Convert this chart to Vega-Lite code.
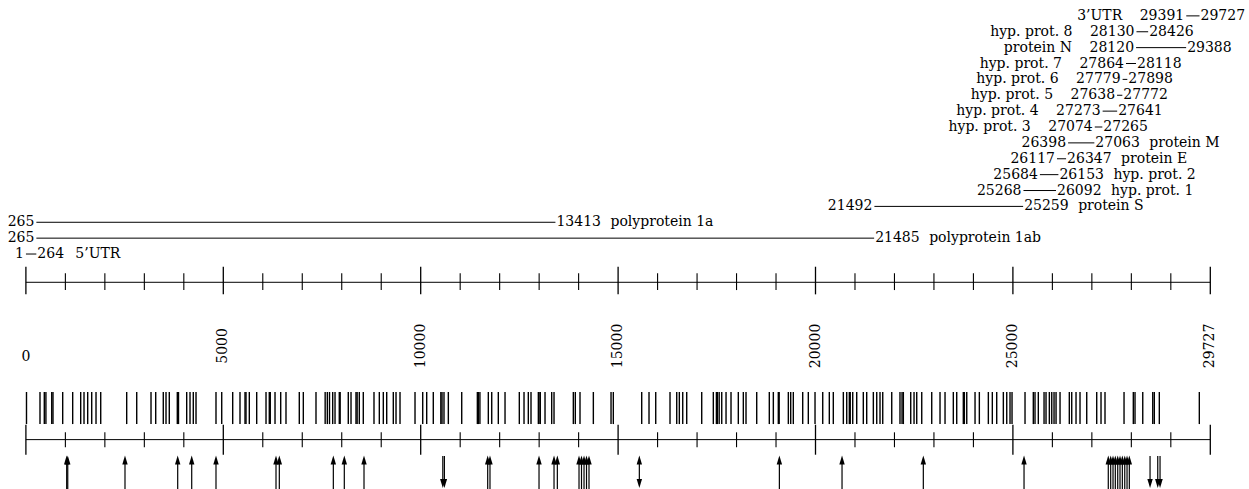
{
  "$schema": "https://vega.github.io/schema/vega-lite/v6.json",
  "autosize": "none",
  "width": 1184.4,
  "height": 489,
  "padding": {"left": 25.9, "right": 38.7, "top": 0, "bottom": 0},
  "background": "white",
  "config": {"view": {"stroke": null}, "text": {"font": "DejaVu Serif", "fontSize": 14, "color": "black"}},
  "datasets": {
    "genes": [
      {"name": "3’UTR", "start": 29391, "end": 29727, "lane": 1, "side": "left"},
      {"name": "hyp. prot. 8", "start": 28130, "end": 28426, "lane": 2, "side": "left"},
      {"name": "protein N", "start": 28120, "end": 29388, "lane": 3, "side": "left"},
      {"name": "hyp. prot. 7", "start": 27864, "end": 28118, "lane": 4, "side": "left"},
      {"name": "hyp. prot. 6", "start": 27779, "end": 27898, "lane": 5, "side": "left"},
      {"name": "hyp. prot. 5", "start": 27638, "end": 27772, "lane": 6, "side": "left"},
      {"name": "hyp. prot. 4", "start": 27273, "end": 27641, "lane": 7, "side": "left"},
      {"name": "hyp. prot. 3", "start": 27074, "end": 27265, "lane": 8, "side": "left"},
      {"name": "protein M", "start": 26398, "end": 27063, "lane": 9, "side": "right"},
      {"name": "protein E", "start": 26117, "end": 26347, "lane": 10, "side": "right"},
      {"name": "hyp. prot. 2", "start": 25684, "end": 26153, "lane": 11, "side": "right"},
      {"name": "hyp. prot. 1", "start": 25268, "end": 26092, "lane": 12, "side": "right"},
      {"name": "protein S", "start": 21492, "end": 25259, "lane": 13, "side": "right"},
      {"name": "polyprotein 1a", "start": 265, "end": 13413, "lane": 14, "side": "right"},
      {"name": "polyprotein 1ab", "start": 265, "end": 21485, "lane": 15, "side": "right"},
      {"name": "5’UTR", "start": 1, "end": 264, "lane": 16, "side": "right"}
    ],
    "ticks": [
      {"pos": 0, "kind": "major", "label": "0"},
      {"pos": 1000, "kind": "minor"}, {"pos": 2000, "kind": "minor"}, {"pos": 3000, "kind": "minor"}, {"pos": 4000, "kind": "minor"},
      {"pos": 5000, "kind": "major", "label": "5000"},
      {"pos": 6000, "kind": "minor"}, {"pos": 7000, "kind": "minor"}, {"pos": 8000, "kind": "minor"}, {"pos": 9000, "kind": "minor"},
      {"pos": 10000, "kind": "major", "label": "10000"},
      {"pos": 11000, "kind": "minor"}, {"pos": 12000, "kind": "minor"}, {"pos": 13000, "kind": "minor"}, {"pos": 14000, "kind": "minor"},
      {"pos": 15000, "kind": "major", "label": "15000"},
      {"pos": 16000, "kind": "minor"}, {"pos": 17000, "kind": "minor"}, {"pos": 18000, "kind": "minor"}, {"pos": 19000, "kind": "minor"},
      {"pos": 20000, "kind": "major", "label": "20000"},
      {"pos": 21000, "kind": "minor"}, {"pos": 22000, "kind": "minor"}, {"pos": 23000, "kind": "minor"}, {"pos": 24000, "kind": "minor"},
      {"pos": 25000, "kind": "major", "label": "25000"},
      {"pos": 26000, "kind": "minor"}, {"pos": 27000, "kind": "minor"}, {"pos": 28000, "kind": "minor"}, {"pos": 29000, "kind": "minor"},
      {"pos": 30000, "kind": "major", "label": "29727"}
    ],
    "sites": [
      {"pos": 15}, {"pos": 357}, {"pos": 466}, {"pos": 507}, {"pos": 654}, {"pos": 686}, {"pos": 932}, {"pos": 1185}, {"pos": 1388}, {"pos": 1472}, {"pos": 1565}, {"pos": 1667}, {"pos": 1776}, {"pos": 1895}, {"pos": 2553}, {"pos": 2807}, {"pos": 3169}, {"pos": 3288}, {"pos": 3480}, {"pos": 3549}, {"pos": 3632}, {"pos": 3835}, {"pos": 3865}, {"pos": 4073}, {"pos": 4157}, {"pos": 4240}, {"pos": 4309}, {"pos": 4815},
      {"pos": 4960}, {"pos": 5238}, {"pos": 5423}, {"pos": 5550}, {"pos": 5575}, {"pos": 5659}, {"pos": 5846}, {"pos": 6082}, {"pos": 6165}, {"pos": 6190}, {"pos": 6310}, {"pos": 6454}, {"pos": 6588}, {"pos": 6925}, {"pos": 7027}, {"pos": 7348}, {"pos": 7580}, {"pos": 7635}, {"pos": 7690}, {"pos": 7771}, {"pos": 7830}, {"pos": 7938}, {"pos": 7960}, {"pos": 8166}, {"pos": 8235}, {"pos": 8361}, {"pos": 8390}, {"pos": 8445}, {"pos": 8546}, {"pos": 8817}, {"pos": 8952}, {"pos": 9053}, {"pos": 9139}, {"pos": 9306}, {"pos": 9375}, {"pos": 9476}, {"pos": 9856},
      {"pos": 10051}, {"pos": 10152}, {"pos": 10319}, {"pos": 10510}, {"pos": 10540}, {"pos": 10590}, {"pos": 10700}, {"pos": 11039}, {"pos": 11435}, {"pos": 11459}, {"pos": 11500}, {"pos": 11713}, {"pos": 11799}, {"pos": 11966}, {"pos": 12136}, {"pos": 12498}, {"pos": 12617}, {"pos": 12726}, {"pos": 12794}, {"pos": 12980}, {"pos": 12997}, {"pos": 13030}, {"pos": 13149}, {"pos": 13318}, {"pos": 13377}, {"pos": 13866}, {"pos": 13916}, {"pos": 14035}, {"pos": 14373}, {"pos": 14821}, {"pos": 14879},
      {"pos": 15598}, {"pos": 15783}, {"pos": 15953}, {"pos": 16315}, {"pos": 16485}, {"pos": 16551}, {"pos": 16637}, {"pos": 16738}, {"pos": 17118}, {"pos": 17412}, {"pos": 17490}, {"pos": 17513}, {"pos": 17560}, {"pos": 17625}, {"pos": 17734}, {"pos": 17860}, {"pos": 18045}, {"pos": 18172}, {"pos": 18240}, {"pos": 18511}, {"pos": 18830}, {"pos": 18932}, {"pos": 19058}, {"pos": 19080}, {"pos": 19312}, {"pos": 19372}, {"pos": 19438}, {"pos": 19676}, {"pos": 19818}, {"pos": 19988},
      {"pos": 20183}, {"pos": 20350}, {"pos": 20451}, {"pos": 20705}, {"pos": 20791}, {"pos": 20857}, {"pos": 20880}, {"pos": 20943}, {"pos": 21044}, {"pos": 21211}, {"pos": 21297}, {"pos": 21465}, {"pos": 21551}, {"pos": 21634}, {"pos": 21703}, {"pos": 21931}, {"pos": 22140}, {"pos": 22192}, {"pos": 22225}, {"pos": 22412}, {"pos": 22496}, {"pos": 22564}, {"pos": 22691}, {"pos": 22944}, {"pos": 23154}, {"pos": 23281}, {"pos": 23491}, {"pos": 23577}, {"pos": 23744}, {"pos": 23770}, {"pos": 23831}, {"pos": 24041}, {"pos": 24150}, {"pos": 24378}, {"pos": 24479}, {"pos": 24590}, {"pos": 24758}, {"pos": 24844}, {"pos": 24927}, {"pos": 24978},
      {"pos": 25307}, {"pos": 25517}, {"pos": 25560}, {"pos": 25644}, {"pos": 25789}, {"pos": 25839}, {"pos": 25923}, {"pos": 25984}, {"pos": 26042}, {"pos": 26093}, {"pos": 26194}, {"pos": 26429}, {"pos": 26490}, {"pos": 26599}, {"pos": 26700}, {"pos": 26870}, {"pos": 27123}, {"pos": 27232}, {"pos": 27333}, {"pos": 27815}, {"pos": 28050}, {"pos": 28093}, {"pos": 28289}, {"pos": 28542}, {"pos": 28582}, {"pos": 28709}, {"pos": 29722}
    ],
    "arrows": [
      {"pos": 1033, "dir": "up"}, {"pos": 1060, "dir": "up"}, {"pos": 2510, "dir": "up"}, {"pos": 3845, "dir": "up"}, {"pos": 4200, "dir": "up"}, {"pos": 4815, "dir": "up"}, {"pos": 6335, "dir": "up"}, {"pos": 6419, "dir": "up"}, {"pos": 7787, "dir": "up"}, {"pos": 8065, "dir": "up"}, {"pos": 8564, "dir": "up"},
      {"pos": 10560, "dir": "down"}, {"pos": 10600, "dir": "down"},
      {"pos": 11697, "dir": "up"}, {"pos": 11755, "dir": "up"}, {"pos": 12997, "dir": "up"}, {"pos": 13377, "dir": "up"}, {"pos": 13461, "dir": "up"},
      {"pos": 14010, "dir": "up"}, {"pos": 14073, "dir": "up"}, {"pos": 14137, "dir": "up"}, {"pos": 14200, "dir": "up"}, {"pos": 14263, "dir": "up"},
      {"pos": 15538, "dir": "both"},
      {"pos": 19085, "dir": "up"}, {"pos": 20672, "dir": "up"}, {"pos": 22731, "dir": "up"}, {"pos": 25282, "dir": "up"},
      {"pos": 27416, "dir": "up"}, {"pos": 27477, "dir": "up"}, {"pos": 27536, "dir": "up"}, {"pos": 27594, "dir": "up"}, {"pos": 27655, "dir": "up"}, {"pos": 27713, "dir": "up"}, {"pos": 27772, "dir": "up"}, {"pos": 27833, "dir": "up"}, {"pos": 27891, "dir": "up"}, {"pos": 27949, "dir": "up"},
      {"pos": 28474, "dir": "down"}, {"pos": 28669, "dir": "down"}, {"pos": 28727, "dir": "down"}
    ]
  },
  "encoding": {
    "x": {"type": "quantitative", "scale": {"domain": [0, 30000], "nice": false, "zero": false}, "axis": null},
    "y": {"type": "quantitative", "scale": {"domain": [0, 30.8], "nice": false, "zero": false, "reverse": true}, "axis": null}
  },
  "layer": [
    {"data": {"name": "genes"}, "mark": {"type": "rule", "strokeWidth": 1, "color": "black"},
     "encoding": {"x": {"field": "start", "type": "quantitative"}, "x2": {"field": "end"}, "y": {"field": "lane", "type": "quantitative"}}},
    {"data": {"name": "genes"}, "mark": {"type": "text", "align": "right", "baseline": "middle", "dx": -2},
     "encoding": {"x": {"field": "start", "type": "quantitative"}, "y": {"field": "lane", "type": "quantitative"}, "text": {"field": "start", "type": "quantitative", "format": "d"}}},
    {"data": {"name": "genes"}, "mark": {"type": "text", "align": "left", "baseline": "middle", "dx": 1},
     "encoding": {"x": {"field": "end", "type": "quantitative"}, "y": {"field": "lane", "type": "quantitative"}, "text": {"field": "end", "type": "quantitative", "format": "d"}}},
    {"data": {"name": "genes"}, "transform": [{"filter": "datum.side == 'left'"}], "mark": {"type": "text", "align": "right", "baseline": "middle", "dx": -64},
     "encoding": {"x": {"field": "start", "type": "quantitative"}, "y": {"field": "lane", "type": "quantitative"}, "text": {"field": "name"}}},
    {"data": {"name": "genes"}, "transform": [{"filter": "datum.side == 'right' && datum.end > 1000"}], "mark": {"type": "text", "align": "left", "baseline": "middle", "dx": 55},
     "encoding": {"x": {"field": "end", "type": "quantitative"}, "y": {"field": "lane", "type": "quantitative"}, "text": {"field": "name"}}},
    {"data": {"name": "genes"}, "transform": [{"filter": "datum.side == 'right' && datum.end < 1000"}], "mark": {"type": "text", "align": "left", "baseline": "middle", "dx": 39},
     "encoding": {"x": {"field": "end", "type": "quantitative"}, "y": {"field": "lane", "type": "quantitative"}, "text": {"field": "name"}}},

    {"data": {"values": [{}]}, "mark": {"type": "rule", "strokeWidth": 1, "color": "black"},
     "encoding": {"x": {"datum": 0}, "x2": {"datum": 30000}, "y": {"datum": 17.78}}},
    {"data": {"name": "ticks"}, "transform": [{"filter": "datum.kind == 'major'"}], "mark": {"type": "rule", "strokeWidth": 1.3, "color": "black"},
     "encoding": {"x": {"field": "pos", "type": "quantitative"}, "y": {"datum": 16.8}, "y2": {"datum": 18.54}}},
    {"data": {"name": "ticks"}, "transform": [{"filter": "datum.kind == 'minor'"}], "mark": {"type": "rule", "strokeWidth": 1.1, "color": "black"},
     "encoding": {"x": {"field": "pos", "type": "quantitative"}, "y": {"datum": 17.21}, "y2": {"datum": 18.27}}},
    {"data": {"name": "ticks"}, "transform": [{"filter": "datum.kind == 'major' && datum.pos > 0"}], "mark": {"type": "text", "angle": 270, "align": "center", "baseline": "middle"},
     "encoding": {"x": {"field": "pos", "type": "quantitative"}, "y": {"datum": 21.79}, "text": {"field": "label"}}},
    {"data": {"name": "ticks"}, "transform": [{"filter": "datum.pos == 0"}], "mark": {"type": "text", "align": "center", "baseline": "middle"},
     "encoding": {"x": {"field": "pos", "type": "quantitative"}, "y": {"datum": 22.49}, "text": {"field": "label"}}},

    {"data": {"name": "sites"}, "mark": {"type": "rule", "strokeWidth": 1.4, "color": "black"},
     "encoding": {"x": {"field": "pos", "type": "quantitative"}, "y": {"datum": 24.69}, "y2": {"datum": 26.71}}},

    {"data": {"values": [{}]}, "mark": {"type": "rule", "strokeWidth": 1, "color": "black"},
     "encoding": {"x": {"datum": 0}, "x2": {"datum": 30000}, "y": {"datum": 27.69}}},
    {"data": {"name": "ticks"}, "transform": [{"filter": "datum.kind == 'major'"}], "mark": {"type": "rule", "strokeWidth": 1.3, "color": "black"},
     "encoding": {"x": {"field": "pos", "type": "quantitative"}, "y": {"datum": 26.75}, "y2": {"datum": 28.64}}},
    {"data": {"name": "ticks"}, "transform": [{"filter": "datum.kind == 'minor'"}], "mark": {"type": "rule", "strokeWidth": 1.1, "color": "black"},
     "encoding": {"x": {"field": "pos", "type": "quantitative"}, "y": {"datum": 27.23}, "y2": {"datum": 28.17}}},

    {"data": {"name": "arrows"}, "transform": [{"filter": "datum.dir == 'up'"}], "mark": {"type": "rule", "strokeWidth": 1.2, "color": "black"},
     "encoding": {"x": {"field": "pos", "type": "quantitative"}, "y": {"datum": 29.1}, "y2": {"datum": 30.8}}},
    {"data": {"name": "arrows"}, "transform": [{"filter": "datum.dir == 'down'"}], "mark": {"type": "rule", "strokeWidth": 1.2, "color": "black"},
     "encoding": {"x": {"field": "pos", "type": "quantitative"}, "y": {"datum": 28.72}, "y2": {"datum": 30.36}}},
    {"data": {"name": "arrows"}, "transform": [{"filter": "datum.dir == 'both'"}], "mark": {"type": "rule", "strokeWidth": 1.2, "color": "black"},
     "encoding": {"x": {"field": "pos", "type": "quantitative"}, "y": {"datum": 28.97}, "y2": {"datum": 30.45}}},
    {"data": {"name": "arrows"}, "transform": [{"filter": "datum.dir != 'down'"}], "mark": {"type": "point", "shape": "M0,-1L0.6,1L-0.6,1Z", "filled": true, "size": 81, "color": "black", "opacity": 1, "strokeWidth": 0},
     "encoding": {"x": {"field": "pos", "type": "quantitative"}, "y": {"datum": 28.97}}},
    {"data": {"name": "arrows"}, "transform": [{"filter": "datum.dir != 'up'"}], "mark": {"type": "point", "shape": "M0,1L0.6,-1L-0.6,-1Z", "filled": true, "size": 81, "color": "black", "opacity": 1, "strokeWidth": 0},
     "encoding": {"x": {"field": "pos", "type": "quantitative"}, "y": {"datum": 30.45}}}
  ]
}
